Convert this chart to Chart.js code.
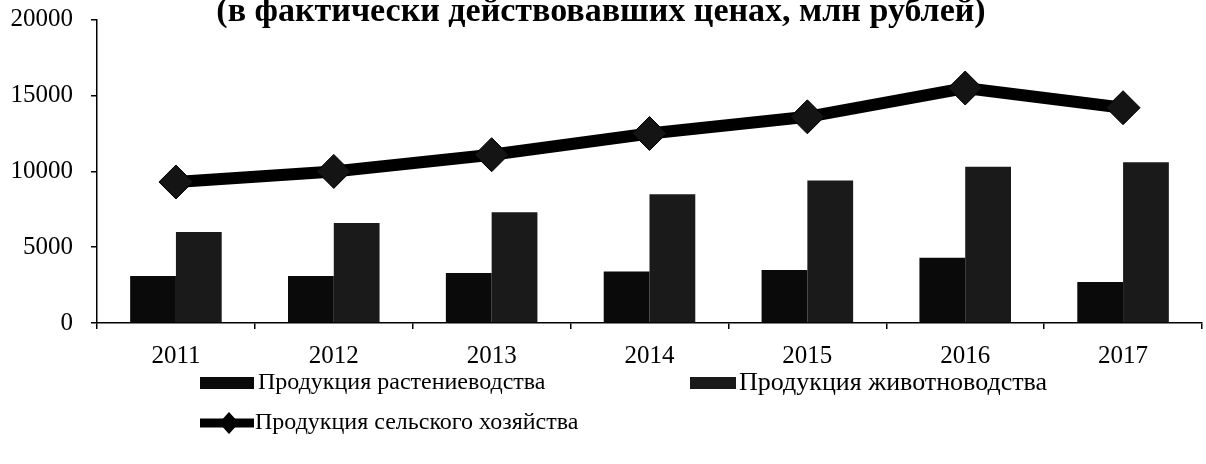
<!DOCTYPE html>
<html>
<head>
<meta charset="utf-8">
<script src="https://cdn.jsdelivr.net/npm/chart.js@4.4.1/dist/chart.umd.min.js"></script>
<style>
  html, body { margin: 0; padding: 0; background: #fff; overflow: hidden; }
  #chart { display: block; margin-top: -20px; }
</style>
</head>
<body>
<canvas id="chart" width="1206" height="484"></canvas>
<script>
const years = ['2011', '2012', '2013', '2014', '2015', '2016', '2017']
const cropValues = [3100, 3100, 3300, 3400, 3500, 4300, 2700]
const livestockValues = [6000, 6600, 7300, 8500, 9400, 10300, 10600]
const totalValues = [9300, 10000, 11100, 12500, 13600, 15500, 14200]
const yTicks = [0, 5000, 10000, 15000, 20000]
const seriesNames = ['Продукция растениеводства', 'Продукция животноводства', 'Продукция сельского хозяйства']

const serif = 'Liberation Serif'
const axisFont = { family: serif, size: 25 }

// legend drawn by hand, to get Excel-like placement
const bottomLegend = {
  id: 'bottomLegend',
  afterDraw(chart) {
    const ctx = chart.ctx
    ctx.save()
    ctx.font = '24px "' + serif + '"'
    ctx.textBaseline = 'middle'
    ctx.textAlign = 'left'
    ctx.fillStyle = '#000'

    const row1 = 403, row2 = 443
    ctx.fillStyle = '#0a0a0a'
    ctx.fillRect(200, row1 - 6, 54, 12)
    ctx.fillStyle = '#000'
    ctx.fillText(seriesNames[0], 258, row1)

    ctx.fillStyle = '#1a1a1a'
    ctx.fillRect(690, row1 - 6, 46, 12)
    ctx.fillStyle = '#000'
    ctx.font = '26px "' + serif + '"'
    ctx.fillText(seriesNames[1], 739, row1)
    ctx.font = '24px "' + serif + '"'

    ctx.strokeStyle = '#000'
    ctx.lineWidth = 9
    ctx.beginPath()
    ctx.moveTo(200, row2)
    ctx.lineTo(254, row2)
    ctx.stroke()
    ctx.beginPath()
    ctx.moveTo(229, row2 - 11)
    ctx.lineTo(239, row2)
    ctx.lineTo(229, row2 + 11)
    ctx.lineTo(219, row2)
    ctx.closePath()
    ctx.fill()
    ctx.fillText(seriesNames[2], 255, row2)
    ctx.restore()
  }
}

new Chart(document.getElementById('chart'), {
  type: 'bar',
  data: {
    labels: years,
    datasets: [
      {
        type: 'line',
        label: seriesNames[2],
        data: totalValues,
        borderColor: '#000',
        borderWidth: 12,
        pointStyle: 'rectRot',
        pointRadius: 17,
        pointHoverRadius: 17,
        pointBackgroundColor: '#141414',
        pointBorderColor: '#000',
        pointBorderWidth: 1,
        order: 0
      },
      {
        label: seriesNames[0],
        data: cropValues,
        backgroundColor: '#0a0a0a',
        categoryPercentage: 0.58,
        barPercentage: 1,
        order: 1
      },
      {
        label: seriesNames[1],
        data: livestockValues,
        backgroundColor: '#1a1a1a',
        categoryPercentage: 0.58,
        barPercentage: 1,
        order: 1
      }
    ]
  },
  options: {
    responsive: false,
    animation: false,
    layout: { autoPadding: false, padding: { top: 0, left: 0, right: 4, bottom: 91 } },
    plugins: {
      legend: { display: false },
      tooltip: { enabled: false },
      title: {
        display: true,
        text: '(в фактически действовавших ценах, млн рублей)',
        color: '#000',
        font: { family: serif, size: 34, weight: 'bold', lineHeight: 0.7 },
        padding: { top: 20, bottom: -4 }
      }
    },
    scales: {
      x: {
        ticks: { font: axisFont, color: '#000', padding: 12 },
        grid: { drawOnChartArea: false, offset: true, tickLength: 6, color: '#000', lineWidth: 1.5 },
        border: { color: '#000', width: 1.5 },
        afterFit: s => {
          s.height = 50
          s.paddingLeft = 0
          s.paddingRight = 0
        }
      },
      y: {
        min: 0,
        max: 20000,
        afterBuildTicks: s => { s.ticks = yTicks.map(v => ({ value: v })) },
        ticks: { font: axisFont, color: '#000', padding: 18, callback: v => String(v) },
        grid: { drawOnChartArea: false, tickLength: 6, color: '#000', lineWidth: 1.5 },
        border: { color: '#000', width: 1.5 },
        afterFit: s => { s.width = 97 }
      }
    }
  },
  plugins: [bottomLegend]
})
</script>
</body>
</html>
